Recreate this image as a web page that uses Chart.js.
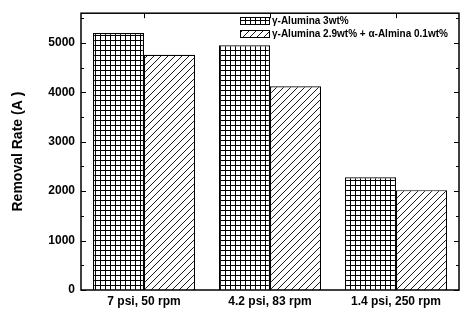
<!DOCTYPE html>
<html>
<head>
<meta charset="utf-8">
<script src="https://cdn.jsdelivr.net/npm/chart.js@4"></script>
<style>
  body{margin:0;background:#fff;}
  canvas{display:block;}
</style>
</head>
<body>
<canvas id="chart" width="461" height="312"></canvas>
<script>
// data
const categories=['7 psi, 50 rpm','4.2 psi, 83 rpm','1.4 psi, 250 rpm'];
const gammaRates=[5200,4950,2280];
const mixRates=[4760,4120,2020];
const seriesNames=['\u03b3-Alumina 3wt%','\u03b3-Alumina 2.9wt% + \u03b1-Almina 0.1wt%'];
const yTicks=[0,1000,2000,3000,4000,5000];
const yMinorTicks=[500,1500,2500,3500,4500,5500];

const FONT='"Liberation Sans", Arial, sans-serif';

// hatch fills
function gridPattern(){
  const c=document.createElement('canvas'); c.width=5; c.height=5;
  const g=c.getContext('2d');
  g.fillStyle='#fff'; g.fillRect(0,0,5,5);
  g.fillStyle='#000'; g.fillRect(0,0,5,1); g.fillRect(0,0,1,5);
  return g.createPattern(c,'repeat');
}
function diagPattern(){
  const s=7;
  const c=document.createElement('canvas'); c.width=s; c.height=s;
  const g=c.getContext('2d');
  g.fillStyle='#fff'; g.fillRect(0,0,s,s);
  g.strokeStyle='#000'; g.lineWidth=0.9;
  g.beginPath();
  g.moveTo(0,s); g.lineTo(s,0);
  g.moveTo(-1,1); g.lineTo(1,-1);
  g.moveTo(s-1,s+1); g.lineTo(s+1,s-1);
  g.stroke();
  return g.createPattern(c,'repeat');
}
const fills=[gridPattern(),diagPattern()];

// frame, inward ticks, legend inside the plot
const framePlugin={
  id:'frame',
  afterDraw(chart){
    const ctx=chart.ctx, a=chart.chartArea, y=chart.scales.y, x=chart.scales.x;
    ctx.save();
    ctx.strokeStyle='#000'; ctx.lineWidth=1.5;
    ctx.strokeRect(a.left,a.top,a.right-a.left,a.bottom-a.top);
    ctx.lineWidth=1;
    ctx.beginPath();
    yTicks.forEach(v=>{
      const p=Math.round(y.getPixelForValue(v))+0.5;
      ctx.moveTo(a.left,p); ctx.lineTo(a.left+5,p);
      ctx.moveTo(a.right,p); ctx.lineTo(a.right-5,p);
    });
    yMinorTicks.forEach(v=>{
      const p=Math.round(y.getPixelForValue(v))+0.5;
      ctx.moveTo(a.left,p); ctx.lineTo(a.left+3,p);
      ctx.moveTo(a.right,p); ctx.lineTo(a.right-3,p);
    });
    categories.forEach((c,i)=>{
      const p=Math.round(x.getPixelForValue(i))+0.5;
      ctx.moveTo(p,a.top); ctx.lineTo(p,a.top+5);
      ctx.moveTo(p,a.bottom); ctx.lineTo(p,a.bottom-3);
    });
    ctx.stroke();

    // legend
    const lx=240, rows=[17,30];
    ctx.font='bold 10px '+FONT;
    ctx.textBaseline='middle';
    chart.data.datasets.forEach((ds,i)=>{
      ctx.fillStyle=ds.backgroundColor;
      ctx.fillRect(lx,rows[i],29,7);
      ctx.lineWidth=1;
      ctx.strokeStyle='#000';
      ctx.strokeRect(lx+0.5,rows[i]+0.5,29,7);
      ctx.fillStyle='#000';
      ctx.fillText(ds.label,lx+32,rows[i]+4);
    });
    ctx.restore();
  }
};

new Chart(document.getElementById('chart'),{
  type:'bar',
  data:{
    labels:categories,
    datasets:[
      {label:seriesNames[0],data:gammaRates,backgroundColor:fills[0],borderColor:'#000',borderWidth:1.2},
      {label:seriesNames[1],data:mixRates,backgroundColor:fills[1],borderColor:'#000',borderWidth:1.2}
    ]
  },
  options:{
    responsive:false,
    animation:false,
    layout:{padding:{top:10,right:2,left:0,bottom:0}},
    datasets:{bar:{categoryPercentage:0.81,barPercentage:1}},
    plugins:{legend:{display:false},tooltip:{enabled:false}},
    scales:{
      x:{
        grid:{display:false,drawTicks:false},
        border:{display:false},
        ticks:{color:'#000',font:{family:FONT,size:12,weight:'bold'},padding:4,maxRotation:0},
        afterFit(s){s.height=22;}
      },
      y:{
        min:0,max:5600,
        grid:{display:false,drawTicks:false},
        border:{display:false},
        afterBuildTicks(s){s.ticks=yTicks.map(v=>({value:v}));},
        ticks:{color:'#000',font:{family:FONT,size:12,weight:'bold'},padding:6,callback:v=>String(v)},
        title:{display:true,text:'Removal Rate (A )',color:'#000',font:{family:FONT,size:14,weight:'bold'},padding:{top:10,bottom:0}},
        afterFit(s){s.width=81;}
      }
    }
  },
  plugins:[framePlugin]
});
</script>
</body>
</html>
